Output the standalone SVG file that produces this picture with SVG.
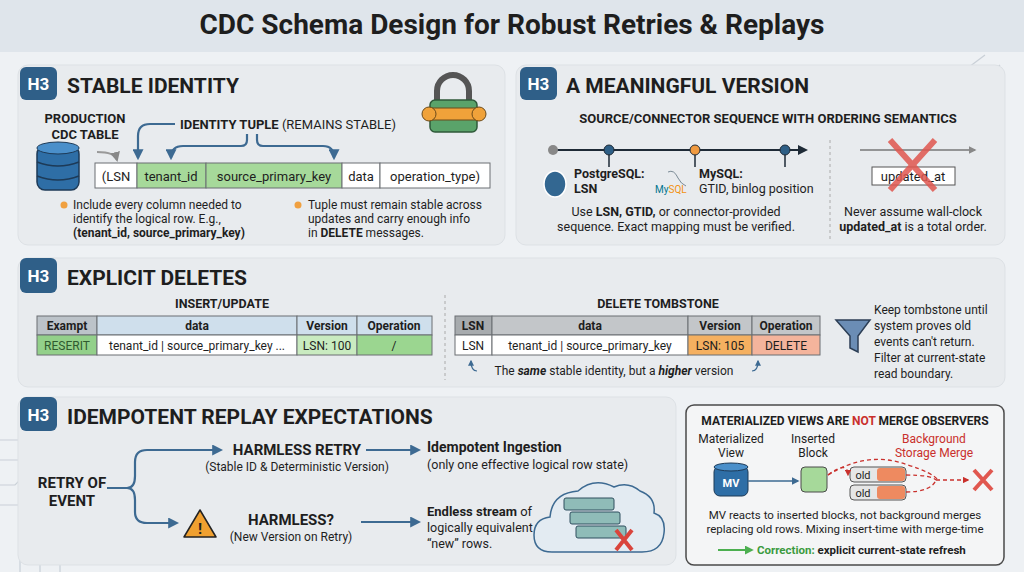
<svg xmlns="http://www.w3.org/2000/svg" width="1024" height="572" viewBox="0 0 1024 572">
<defs>
<style>
text{font-family:Roboto,"Liberation Sans",sans-serif;fill:#1e1e1e}
.b{font-weight:bold}
.panel{fill:#e8ebee;stroke:#dde1e5}
.badge{fill:#2f5f88}
.h3{fill:#fff;font-weight:bold;font-size:17px}
.ttl{font-weight:bold;font-size:21px}
.c{text-anchor:middle}
.cell{stroke:#6b6f73;stroke-width:1}
.conn{fill:none;stroke:#3d6a92;stroke-width:2.2}
.sm{font-size:12px}
.circ{fill:none;stroke:#c9d0d7;stroke-width:1.2}
.red{fill:#c9302c}
</style>
<marker id="ah" viewBox="0 0 10 10" refX="8" refY="5" markerWidth="5" markerHeight="5" orient="auto"><path d="M0,0L10,5L0,10z" fill="#3d6a92"/></marker>
<marker id="ak" viewBox="0 0 10 10" refX="8" refY="5" markerWidth="5" markerHeight="5" orient="auto"><path d="M0,0L10,5L0,10z" fill="#1e2a36"/></marker>
<marker id="ag" viewBox="0 0 10 10" refX="8" refY="5" markerWidth="5" markerHeight="5" orient="auto"><path d="M0,0L10,5L0,10z" fill="#888"/></marker>
<marker id="ar" viewBox="0 0 10 10" refX="8" refY="5" markerWidth="5" markerHeight="5" orient="auto"><path d="M0,0L10,5L0,10z" fill="#c9302c"/></marker>
<marker id="agr" viewBox="0 0 10 10" refX="8" refY="5" markerWidth="5" markerHeight="5" orient="auto"><path d="M0,0L10,5L0,10z" fill="#4caf50"/></marker>
</defs>
<rect width="1024" height="572" fill="#eef1f4"/>
<rect width="1024" height="52" fill="#dfe5eb"/>
<text x="512" y="34" class="c b" font-size="28">CDC Schema Design for Robust Retries &amp; Replays</text>

<g id="decor" class="circ">
<path d="M0,440 h20 l15,-15 h10 M0,460 h25 l20,-20 M0,485 h15 l25,-25 M0,505 h30 M20,572 v-40 l15,-15 M40,572 v-50 M60,572 v-30 l10,-10"/>
<path d="M965,70 l20,-15 M950,85 h30 l20,-20 M960,100 h40"/>
</g>

<!-- Panel 1 -->
<g id="stable-identity">
<rect x="18" y="65" width="487" height="180" rx="10" class="panel"/>
<rect x="20" y="67" width="37" height="33" rx="6" class="badge"/>
<text x="38.5" y="90" class="h3 c">H3</text>
<text x="67" y="93" class="ttl">STABLE IDENTITY</text>
<g id="lock">
<path d="M437,103 v-12 a16,16 0 0 1 32,0 v12" fill="none" stroke="#555" stroke-width="6"/>
<rect x="430" y="100" width="47" height="32" rx="5" fill="#5aa36a" stroke="#2f5a3a" stroke-width="1.5"/>
<rect x="425" y="108" width="58" height="12" rx="6" fill="#f0a23a" stroke="#6b4a1a"/>
<circle cx="429" cy="114" r="7" fill="#f0a23a" stroke="#6b4a1a"/><circle cx="479" cy="114" r="7" fill="#f0a23a" stroke="#6b4a1a"/>
</g>
<text x="85" y="123" class="c b" font-size="13">PRODUCTION</text>
<text x="85" y="139" class="c b" font-size="13">CDC TABLE</text>
<g id="db">
<rect x="37" y="146" width="42" height="44" rx="8" fill="#2e6ea6" stroke="#1d3a57" stroke-width="1.5"/>
<ellipse cx="58" cy="148" rx="21" ry="6" fill="#4a8fca" stroke="#1d3a57"/>
<path d="M37,162 q21,8 42,0 M37,176 q21,8 42,0" fill="none" stroke="#1d3a57" stroke-width="1.5"/>
</g>
<text x="180" y="129" class="b" font-size="13">IDENTITY TUPLE <tspan font-weight="normal">(REMAINS STABLE)</tspan></text>
<g>
<rect x="95" y="163" width="42" height="25" fill="#fff" class="cell"/>
<rect x="137" y="163" width="69" height="25" fill="#a6d99a" class="cell"/>
<rect x="206" y="163" width="136" height="25" fill="#a6d99a" class="cell"/>
<rect x="342" y="163" width="38" height="25" fill="#fff" class="cell"/>
<rect x="380" y="163" width="110" height="25" fill="#fff" class="cell"/>
<text x="116" y="181" class="c" font-size="13">(LSN</text>
<text x="171" y="181" class="c" font-size="13">tenant_id</text>
<text x="274" y="181" class="c" font-size="13">source_primary_key</text>
<text x="361" y="181" class="c" font-size="13">data</text>
<text x="435" y="181" class="c" font-size="13">operation_type)</text>
</g>
<text x="73" y="209" class="sm">Include every column needed to</text>
<text x="73" y="223" class="sm">identify the logical row. E.g.,</text>
<text x="73" y="237" class="sm b">(tenant_id, source_primary_key)</text>
<circle cx="64" cy="205" r="3.5" fill="#f0a040"/>
<text x="308" y="209" class="sm">Tuple must remain stable across</text>
<text x="308" y="223" class="sm">updates and carry enough info</text>
<text x="308" y="237" class="sm">in <tspan font-weight="bold">DELETE</tspan> messages.</text>
<circle cx="298" cy="205" r="3.5" fill="#f0a040"/>
</g>

<!-- Panel 2 -->
<g id="meaningful-version">
<rect x="516" y="65" width="489" height="180" rx="10" class="panel"/>
<rect x="520" y="67" width="37" height="33" rx="6" class="badge"/>
<text x="538.5" y="90" class="h3 c">H3</text>
<text x="566" y="93" class="ttl">A MEANINGFUL VERSION</text>
<text x="768" y="123" class="c b" font-size="13">SOURCE/CONNECTOR SEQUENCE WITH ORDERING SEMANTICS</text>
<line x1="553" y1="150" x2="806" y2="150" stroke="#1e2a36" stroke-width="2" marker-end="url(#ak)"/>
<g stroke="#1e2a36" stroke-width="1.5">
<line x1="609" y1="150" x2="609" y2="167"/><line x1="695" y1="150" x2="695" y2="167"/><line x1="785" y1="150" x2="785" y2="167"/>
</g>
<circle cx="553" cy="150" r="5" fill="#888"/>
<circle cx="609" cy="150" r="5" fill="#2e5f86" stroke="#1e2a36"/>
<circle cx="695" cy="150" r="5" fill="#f09a40" stroke="#1e2a36"/>
<circle cx="785" cy="150" r="5" fill="#2e5f86" stroke="#1e2a36"/>
<ellipse cx="555" cy="184" rx="11" ry="13" fill="#336791" stroke="#fff" stroke-width="1.5"/>
<text x="574" y="178" class="b" font-size="12.5">PostgreSQL:</text>
<text x="574" y="193" class="b" font-size="12.5">LSN</text>
<path d="M668,172 q6,-3 10,6 q3,6 8,8" fill="none" stroke="#7a8a95" stroke-width="1"/>
<text x="655" y="193" font-size="10" style="fill:#00758f">My<tspan style="fill:#f29111">SQL</tspan></text>
<text x="699" y="178" class="b" font-size="12.5">MySQL:</text>
<text x="699" y="193" font-size="12.5">GTID, binlog position</text>
<text x="676" y="216" class="c" font-size="12.5">Use <tspan font-weight="bold">LSN, GTID,</tspan> or connector-provided</text>
<text x="676" y="231" class="c" font-size="12.5">sequence. Exact mapping must be verified.</text>
<line x1="830" y1="140" x2="830" y2="240" stroke="#aaa" stroke-dasharray="3,3"/>
<line x1="860" y1="150" x2="975" y2="150" stroke="#777" stroke-width="1.5" marker-end="url(#ag)"/>
<rect x="872" y="167" width="83" height="18" fill="#fff" stroke="#555"/>
<text x="913" y="181" class="c" font-size="13">updated_at</text>
<path d="M890,140 L935,190 M935,140 L890,190" stroke="#e0574f" stroke-width="6" opacity="0.85"/>
<text x="913" y="216" class="c" font-size="12.5">Never assume wall-clock</text>
<text x="913" y="231" class="c" font-size="12.5"><tspan font-weight="bold">updated_at</tspan> is a total order.</text>
</g>

<!-- Panel 3 -->
<g id="explicit-deletes">
<rect x="18" y="258" width="987" height="129" rx="10" class="panel"/>
<rect x="20" y="258" width="37" height="35" rx="6" class="badge"/>
<text x="38.5" y="282" class="h3 c">H3</text>
<text x="67" y="285" class="ttl">EXPLICIT DELETES</text>
<text x="222" y="308" class="c b" font-size="12.5">INSERT/UPDATE</text>
<rect x="37" y="316" width="60" height="19" fill="#bcc3c9" class="cell"/>
<rect x="97" y="316" width="200" height="19" fill="#cfdfec" class="cell"/>
<rect x="297" y="316" width="60" height="19" fill="#cfdfec" class="cell"/>
<rect x="357" y="316" width="75" height="19" fill="#cfdfec" class="cell"/>
<rect x="37" y="335" width="60" height="20" fill="#93d08a" class="cell"/>
<rect x="97" y="335" width="200" height="20" fill="#fff" class="cell"/>
<rect x="297" y="335" width="60" height="20" fill="#c9ebc0" class="cell"/>
<rect x="357" y="335" width="75" height="20" fill="#9bd690" class="cell"/>
<g font-size="12">
<text x="67" y="330" class="c b">Exampt</text><text x="197" y="330" class="c b">data</text><text x="327" y="330" class="c b">Version</text><text x="394" y="330" class="c b">Operation</text>
<text x="67" y="350" class="c" style="fill:#2f5a2f">RESERIT</text><text x="197" y="350" class="c">tenant_id | source_primary_key ...</text><text x="327" y="350" class="c">LSN: 100</text><text x="394" y="350" class="c">/</text>
</g>
<line x1="445" y1="295" x2="445" y2="380" stroke="#aaa" stroke-dasharray="3,3"/>
<text x="658" y="308" class="c b" font-size="12.5">DELETE TOMBSTONE</text>
<rect x="455" y="316" width="37" height="19" fill="#a7abae" class="cell"/>
<rect x="492" y="316" width="196" height="19" fill="#c3c6c9" class="cell"/>
<rect x="688" y="316" width="64" height="19" fill="#c3c6c9" class="cell"/>
<rect x="752" y="316" width="68" height="19" fill="#c3c6c9" class="cell"/>
<rect x="455" y="335" width="37" height="20" fill="#fff" class="cell"/>
<rect x="492" y="335" width="196" height="20" fill="#fff" class="cell"/>
<rect x="688" y="335" width="64" height="20" fill="#f5b060" class="cell"/>
<rect x="752" y="335" width="68" height="20" fill="#f4b49c" class="cell"/>
<g font-size="12">
<text x="473" y="330" class="c b">LSN</text><text x="590" y="330" class="c b">data</text><text x="720" y="330" class="c b">Version</text><text x="786" y="330" class="c b">Operation</text>
<text x="473" y="350" class="c">LSN</text><text x="590" y="350" class="c">tenant_id | source_primary_key</text><text x="720" y="350" class="c">LSN: 105</text><text x="786" y="350" class="c">DELETE</text>
</g>
<text x="614" y="375" class="c" font-size="12">The <tspan font-weight="bold" font-style="italic">same</tspan> stable identity, but a <tspan font-weight="bold" font-style="italic">higher</tspan> version</text>
<path d="M836,320 L870,320 L858,336 L858,352 L850,348 L850,336 Z" fill="#6b8db5" stroke="#2c3e55" stroke-width="1.5"/>
<g font-size="12">
<text x="874" y="314">Keep tombstone until</text>
<text x="874" y="330">system proves old</text>
<text x="874" y="346">events can't return.</text>
<text x="874" y="362">Filter at current-state</text>
<text x="874" y="378">read boundary.</text>
</g>
</g>

<!-- Panel 4 -->
<g id="idempotent-replay">
<rect x="18" y="397" width="658" height="168" rx="10" class="panel"/>
<rect x="20" y="397" width="37" height="34" rx="6" class="badge"/>
<text x="38.5" y="421" class="h3 c">H3</text>
<text x="67" y="424" class="ttl">IDEMPOTENT REPLAY EXPECTATIONS</text>
<text x="72" y="488" class="c b" font-size="15">RETRY OF</text>
<text x="72" y="506" class="c b" font-size="15">EVENT</text>
<text x="297" y="455" class="c b" font-size="15">HARMLESS RETRY</text>
<text x="297" y="471" class="c" font-size="12">(Stable ID &amp; Deterministic Version)</text>
<text x="427" y="452" class="b" font-size="14">Idempotent Ingestion</text>
<text x="427" y="469" font-size="12.5">(only one effective logical row state)</text>
<path d="M200,510 L216,537 L184,537 Z" fill="#f0a030" stroke="#222" stroke-width="1.5" stroke-linejoin="round"/>
<text x="200" y="534" class="c b" font-size="15">!</text>
<text x="291" y="525" class="c b" font-size="15">HARMLESS?</text>
<text x="291" y="541" class="c" font-size="12">(New Version on Retry)</text>
<text x="427" y="516" class="b" font-size="13">Endless stream <tspan font-weight="normal">of</tspan></text>
<text x="427" y="532" font-size="12.5">logically equivalent</text>
<text x="427" y="548" font-size="12.5">“new” rows.</text>
<g id="cloud">
<path d="M552,552 q-18,0 -18,-17 q0,-16 16,-18 q2,-24 28,-26 q16,-14 36,-4 q14,-6 26,4 q16,6 14,22 q12,4 10,20 q-2,19 -22,19 z" fill="#e3ebf2" stroke="#3d6a92" stroke-width="1.5"/>
<rect x="564" y="498" width="50" height="12" rx="2" fill="#8fbcb8" stroke="#2f4f5f"/>
<rect x="570" y="512" width="50" height="12" rx="2" fill="#8fbcb8" stroke="#2f4f5f"/>
<rect x="576" y="526" width="50" height="12" rx="2" fill="#8fbcb8" stroke="#2f4f5f"/>
<path d="M616,530 L632,550 M632,530 L616,550" stroke="#d9443c" stroke-width="4"/>
</g>
</g>

<!-- Connectors -->
<g id="connectors">
<path d="M175,124 h-25 q-12,0 -12,12 v22" class="conn" stroke-width="1.8" marker-end="url(#ah)"/>
<path d="M247,134 v6 q0,6 -6,6 h-58 q-12,0 -12,12" class="conn" stroke-width="1.8" marker-end="url(#ah)"/>
<path d="M257,134 v6 q0,6 6,6 h60 q11,0 11,12" class="conn" stroke-width="1.8" marker-end="url(#ah)"/>
<path d="M97,152 q18,0 20,8" fill="none" stroke="#999" stroke-width="2" marker-end="url(#ag)"/>
<path d="M477,371 q-6,0 -6,-10" fill="none" stroke="#3d6a92" stroke-width="1.2" marker-end="url(#ah)"/>
<path d="M752,371 q6,0 6,-10" fill="none" stroke="#3d6a92" stroke-width="1.2" marker-end="url(#ah)"/>
<path d="M107,488 h20 q8,0 8,-12 v-14 q0,-12 12,-12 h74" class="conn" marker-end="url(#ah)"/>
<path d="M127,488 q8,0 8,12 v12 q0,11 12,11 h30" class="conn" marker-end="url(#ah)"/>
<line x1="366" y1="450" x2="419" y2="450" class="conn" marker-end="url(#ah)"/>
<line x1="361" y1="522" x2="419" y2="522" class="conn" marker-end="url(#ah)"/>
</g>

<!-- Panel 5 -->
<g id="mv-panel">
<rect x="686" y="405" width="318" height="160" rx="8" fill="#f4f5f6" stroke="#4a4a4a" stroke-width="1.5"/>
<text x="845" y="425" class="c b" font-size="12">MATERIALIZED VIEWS ARE <tspan class="red">NOT</tspan> MERGE OBSERVERS</text>
<g font-size="12">
<text x="731" y="443" class="c">Materialized</text><text x="731" y="457" class="c">View</text>
<text x="813" y="443" class="c">Inserted</text><text x="813" y="457" class="c">Block</text>
<text x="934" y="443" class="c red">Background</text><text x="934" y="457" class="c red">Storage Merge</text>
</g>
<rect x="714" y="466" width="34" height="30" rx="6" fill="#2e6ea6" stroke="#1d3a57"/>
<ellipse cx="731" cy="467" rx="17" ry="4" fill="#4a8fca" stroke="#1d3a57"/>
<text x="731" y="487" class="c b" font-size="11" style="fill:#fff">MV</text>
<line x1="748" y1="481" x2="798" y2="481" stroke="#3d6a92" stroke-width="1.5" marker-end="url(#ah)"/>
<rect x="801" y="467" width="26" height="25" rx="4" fill="#a6d99a" stroke="#4a4a4a"/>
<rect x="850" y="467" width="56" height="15" rx="4" fill="#e6e6e6" stroke="#555"/>
<rect x="877" y="468" width="28" height="13" rx="3" fill="#ee8a60"/>
<text x="863" y="479" class="c" font-size="11">old</text>
<rect x="850" y="485" width="56" height="15" rx="4" fill="#e6e6e6" stroke="#555"/>
<rect x="877" y="486" width="28" height="13" rx="3" fill="#ee8a60"/>
<text x="863" y="497" class="c" font-size="11">old</text>
<g fill="none" stroke="#c9302c" stroke-width="1.3" stroke-dasharray="4,3">
<path d="M828,475 q20,-15 20,0" marker-end="url(#ar)"/>
<path d="M828,475 q40,-25 80,-10 q25,8 30,15"/>
<path d="M906,475 q25,0 30,5"/>
<path d="M906,492 q25,0 30,-12"/>
<line x1="936" y1="480" x2="968" y2="480" marker-end="url(#ar)"/>
</g>
<path d="M974,470 L992,490 M992,470 L974,490" stroke="#e0574f" stroke-width="4"/>
<text x="845" y="519" class="c" font-size="11.5">MV reacts to inserted blocks, not background merges</text>
<text x="845" y="533" class="c" font-size="11.5">replacing old rows. Mixing insert-time with merge-time</text>
<line x1="718" y1="550" x2="752" y2="550" stroke="#4caf50" stroke-width="1.8" marker-end="url(#agr)"/>
<text x="757" y="554" class="b" font-size="11.5"><tspan style="fill:#3a9a3e">Correction:</tspan> explicit current-state refresh</text>
</g>
</svg>
